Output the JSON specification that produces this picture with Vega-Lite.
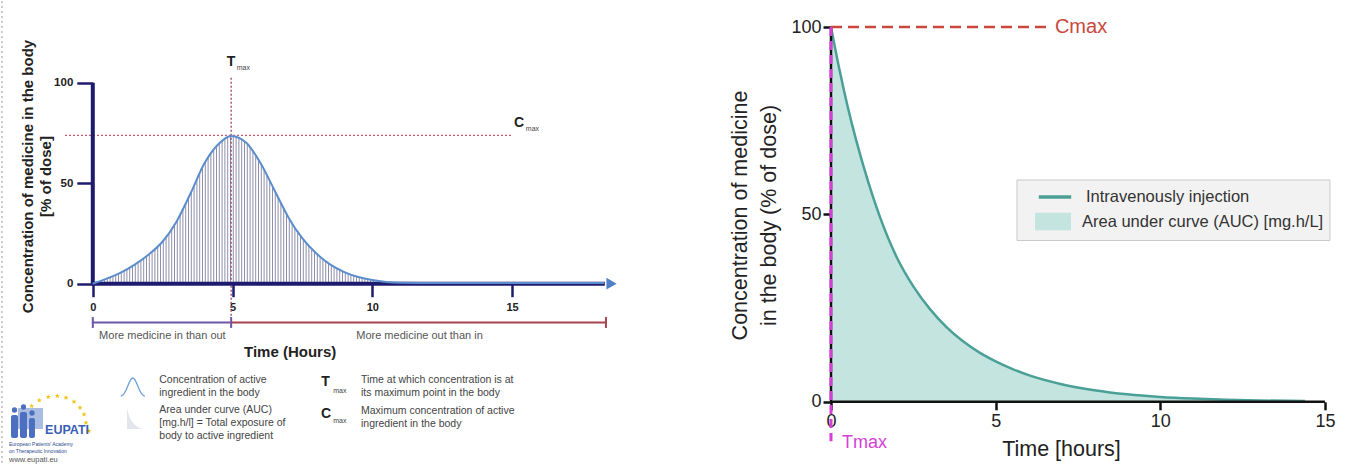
{
"$schema": "https://vega.github.io/schema/vega-lite/v6.json",
"padding": 0,
"background": "#ffffff",
"spacing": 0,
"config": {"view": {"stroke": null}, "font": "Liberation Sans"},
"datasets": {
 "left_curve": [{"x":0,"y":0},{"x":0.5,"y":2.5},{"x":1,"y":5.5},{"x":1.5,"y":9.5},{"x":2,"y":14.5},{"x":2.5,"y":21},{"x":3,"y":31},{"x":3.5,"y":45},{"x":4,"y":60},{"x":4.5,"y":69.5},{"x":4.95,"y":73.5},{"x":5.5,"y":70},{"x":6,"y":60},{"x":6.5,"y":46.5},{"x":7,"y":33},{"x":7.5,"y":22.5},{"x":8,"y":15},{"x":8.5,"y":9.5},{"x":9,"y":5.8},{"x":9.5,"y":3.3},{"x":10,"y":1.8},{"x":10.5,"y":0.9},{"x":11,"y":0.5},{"x":12,"y":0.4},{"x":18.3,"y":0.4}],
 "left_hatch": [{"x":0,"y":36.75,"x2":11,"y2":36.75}],
 "left_sep": [{"x":-3.249,"y":140.6,"x2":-3.249,"y2":-91.2}],
 "left_cmax": [{"x":-0.995,"y":73.8,"x2":15.0,"y2":73.8}],
 "left_tmax": [{"x":4.95,"y":102.5,"x2":4.95,"y2":-16.6}],
 "left_axes": [{"x":0,"y":0,"x2":0,"y2":100},{"x":0,"y":0,"x2":18.32,"y2":0}],
 "left_arrow": [{"x":18.56,"y":0}],
 "seg_in": [{"x":0,"y":-19.3,"x2":4.95,"y2":-19.3},{"x":0,"y":-16.6,"x2":0,"y2":-22.0},{"x":4.95,"y":-16.6,"x2":4.95,"y2":-22.0}],
 "seg_out": [{"x":4.95,"y":-19.3,"x2":18.36,"y2":-19.3},{"x":18.36,"y":-16.6,"x2":18.36,"y2":-22.0}],
 "left_notes": [{"x":2.49,"y":-26.0,"label":"More medicine in than out"},{"x":11.69,"y":-26.0,"label":"More medicine out than in"}],
 "left_big": [{"x":4.945,"y":110.3,"label":"T"},{"x":15.25,"y":80.1,"label":"C"},{"x":8.325,"y":-48.9,"label":"T"},{"x":8.35,"y":-64.6,"label":"C"}],
 "left_sub": [{"x":5.385,"y":107.1,"label":"max"},{"x":15.73,"y":77.0,"label":"max"},{"x":8.84,"y":-53.4,"label":"max"},{"x":8.84,"y":-68.3,"label":"max"}],
 "left_desc": [{"x":2.379,"y":-47.9,"label":"Concentration of active\ningredient in the body"},{"x":2.379,"y":-62.8,"label":"Area under curve (AUC)\n[mg.h/l] = Total exposure of\nbody to active ingredient"},{"x":9.596,"y":-47.9,"label":"Time at which concentration is at\nits maximum point in the body"},{"x":9.596,"y":-63.1,"label":"Maximum concentration of active\ningredient in the body"}],
 "left_icon_curve": [{"x":1.431,"y":-51.4}],
 "left_icon_auc": [{"x":1.51,"y":-67.1}],
 "logo_stars": [{"x":-2.186,"y":-60.85},{"x":-1.914,"y":-58.01},{"x":-1.592,"y":-56.37},{"x":-1.27,"y":-55.87},{"x":-0.959,"y":-56.72},{"x":-0.673,"y":-58.71},{"x":-0.458,"y":-61.69},{"x":-0.315,"y":-64.98},{"x":-0.243,"y":-69.15},{"x":-0.136,"y":-73.28}],
 "logo_building": [{"x":-2.676,"x2":-1.782,"y":-61.84,"y2":-72.29}],
 "logo_figs": [{"x":-2.927,"x2":-2.676,"y":-65.32,"y2":-76.77},{"x":-2.605,"x2":-2.354,"y":-63.83,"y2":-76.77},{"x":-2.283,"x2":-2.069,"y":-66.82,"y2":-76.77}],
 "logo_heads": [{"x":-2.801,"y":-62.84},{"x":-2.479,"y":-61.34},{"x":-2.175,"y":-64.33}],
 "logo_name": [{"x":-0.92,"y":-72.8,"label":"EUPATI"}],
 "logo_small": [{"x":-2.998,"y":-79.8,"label":"European Patients' Academy"},{"x":-2.998,"y":-83.3,"label":"on Therapeutic Innovation"}],
 "logo_url": [{"x":-2.998,"y":-87.7,"label":"www.eupati.eu"}],
 "right_curve": [{"x":0,"y":100},{"x":0.25,"y":88.9},{"x":0.5,"y":79},{"x":0.75,"y":70.3},{"x":1,"y":62.5},{"x":1.5,"y":49},{"x":2,"y":38.5},{"x":2.5,"y":30.8},{"x":3,"y":24.8},{"x":3.5,"y":20},{"x":4,"y":16.2},{"x":4.5,"y":13.2},{"x":5,"y":10.8},{"x":5.5,"y":8.8},{"x":6,"y":7.1},{"x":7,"y":4.7},{"x":8,"y":3.1},{"x":9,"y":2},{"x":10,"y":1.3},{"x":11,"y":0.85},{"x":12,"y":0.55},{"x":13,"y":0.35},{"x":14.4,"y":0.2}],
 "right_axes": [{"x":0,"y":0,"x2":0,"y2":100},{"x":0,"y":0,"x2":15,"y2":0}],
 "right_cmax": [{"x":0,"y":100,"x2":6.65,"y2":100}],
 "right_tmax": [{"x":0,"y":100,"x2":0,"y2":-10.5}],
 "right_cmax_label": [{"x":6.8,"y":100,"label":"Cmax"}],
 "right_tmax_label": [{"x":0.334,"y":-10.9,"label":"Tmax"}],
 "right_legend_box": [{"x":5.648,"x2":15.153,"y":59.18,"y2":43.04}]
},
"hconcat": [
 {
  "width": 680, "height": 466,
  "encoding": {
   "x": {"field":"x","type":"quantitative","scale":{"domain":[-3.32,21.009],"nice":false,"zero":false},
         "axis": {"values":[0,5,10,15],"offset":-183.3,"domain":false,"grid":false,"ticks":true,"labels":true,"tickSize":13,"tickWidth":2.5,"tickColor":"#1e1b6e",
                  "labelFontSize":11,"labelFontWeight":"bold","labelColor":"#222222","labelPadding":5,
                  "title":"Time (Hours)","titleFontSize":15,"titleFontWeight":"bold","titleColor":"#222222",
                  "titleX":289.6,"titleY":67.3,"titleAlign":"center","titleBaseline":"middle"}},
   "y": {"field":"y","type":"quantitative","scale":{"domain":[-91.19,140.65],"nice":false,"zero":false},
         "axis": {"values":[0,50,100],"offset":-92.8,"domain":false,"grid":false,"ticks":true,"labels":true,"tickSize":16,"tickWidth":2.5,"tickColor":"#1e1b6e",
                  "labelFontSize":11.5,"labelFontWeight":"bold","labelColor":"#222222","labelPadding":4,
                  "title":["Concentration of medicine in the body","[% of dose]"],"titleFontSize":15,"titleFontWeight":"bold","titleColor":"#222222",
                  "titleX":-65.8,"titleY":175,"titleAngle":-90,"titleAlign":"center","titleBaseline":"middle","titleLineHeight":18}}
  },
  "layer": [
   {"data": {"name": "left_sep"}, "mark": {"type": "rule", "stroke": "#bbbbbb", "strokeDash": [2,3], "strokeWidth": 1.5},
    "encoding": {"x2": {"field":"x2"}, "y2": {"field":"y2"}}},
   {"data": {"name": "left_hatch"}, "mark": {"type": "rule", "stroke": "#8e8eaa", "strokeDash": [1,1.8], "strokeWidth": 147.7, "strokeCap": "butt"},
    "encoding": {"x2": {"field":"x2"}, "y2": {"field":"y2"}}},
   {"data": {"name": "left_curve"}, "transform": [{"filter": "datum.x <= 11"}],
    "mark": {"type": "area", "color": "#ffffff", "interpolate": "monotone", "opacity": 1},
    "encoding": {"y2": {"datum": 74.5}}},
   {"data": {"name": "left_cmax"}, "mark": {"type": "rule", "stroke": "#c0606e", "strokeDash": [2,2], "strokeWidth": 1.4},
    "encoding": {"x2": {"field":"x2"}, "y2": {"field":"y2"}}},
   {"data": {"name": "left_tmax"}, "mark": {"type": "rule", "stroke": "#a0506a", "strokeDash": [2,2], "strokeWidth": 1.4},
    "encoding": {"x2": {"field":"x2"}, "y2": {"field":"y2"}}},
   {"data": {"name": "left_axes"}, "mark": {"type": "rule", "stroke": "#1e1b6e", "strokeWidth": 4},
    "encoding": {"x2": {"field":"x2"}, "y2": {"field":"y2"}}},
   {"data": {"name": "left_curve"}, "mark": {"type": "line", "stroke": "#5b8ccc", "strokeWidth": 2, "interpolate": "monotone"},
    "encoding": {}},
   {"data": {"name": "left_arrow"}, "mark": {"type": "point", "shape": "triangle-right", "filled": true, "fill": "#4f80c6", "size": 140, "opacity": 1},
    "encoding": {}},
   {"data": {"name": "seg_in"}, "mark": {"type": "rule", "stroke": "#6b56a8", "strokeWidth": 2},
    "encoding": {"x2": {"field":"x2"}, "y2": {"field":"y2"}}},
   {"data": {"name": "seg_out"}, "mark": {"type": "rule", "stroke": "#a8434f", "strokeWidth": 2},
    "encoding": {"x2": {"field":"x2"}, "y2": {"field":"y2"}}},
   {"data": {"name": "left_notes"}, "mark": {"type": "text", "fontSize": 11, "color": "#555555", "align": "center", "baseline": "middle"},
    "encoding": {"text": {"field":"label"}}},
   {"data": {"name": "left_big"}, "mark": {"type": "text", "fontSize": 14, "fontWeight": "bold", "color": "#222222", "align": "center", "baseline": "middle"},
    "encoding": {"text": {"field":"label"}}},
   {"data": {"name": "left_sub"}, "mark": {"type": "text", "fontSize": 7, "color": "#444444", "align": "center", "baseline": "middle"},
    "encoding": {"text": {"field":"label"}}},
   {"data": {"name": "left_desc"}, "mark": {"type": "text", "fontSize": 10.5, "color": "#444444", "align": "left", "baseline": "middle", "lineBreak": "\n", "lineHeight": 13},
    "encoding": {"text": {"field":"label"}}},
   {"data": {"name": "left_icon_curve"}, "mark": {"type": "point", "shape": "M-1,0.75C-0.5,0.75 -0.35,-0.75 0,-0.75C0.35,-0.75 0.5,0.75 1,0.75", "filled": false, "stroke": "#6e9fd8", "strokeWidth": 1.3, "size": 576, "opacity": 1},
    "encoding": {}},
   {"data": {"name": "left_icon_auc"}, "mark": {"type": "point", "shape": "M-1,1.3L-1,-1.3C-0.7,0.2 -0.1,1 1,1.3Z", "filled": true, "fill": "#e3e5ee", "size": 256, "opacity": 1},
    "encoding": {}},
   {"data": {"name": "logo_building"}, "mark": {"type": "rect", "fill": "#a9bde3"},
    "encoding": {"x2": {"field":"x2"}, "y2": {"field":"y2"}}},
   {"data": {"name": "logo_figs"}, "mark": {"type": "rect", "fill": "#4d6fbf", "cornerRadius": 2},
    "encoding": {"x2": {"field":"x2"}, "y2": {"field":"y2"}}},
   {"data": {"name": "logo_heads"}, "mark": {"type": "point", "shape": "circle", "filled": true, "fill": "#4d6fbf", "size": 28, "opacity": 1},
    "encoding": {}},
   {"data": {"name": "logo_stars"}, "mark": {"type": "point", "shape": "M0,-1L0.235,-0.324L0.951,-0.309L0.38,0.124L0.588,0.809L0,0.4L-0.588,0.809L-0.38,0.124L-0.951,-0.309L-0.235,-0.324Z", "filled": true, "fill": "#f0c419", "size": 30, "opacity": 1},
    "encoding": {}},
   {"data": {"name": "logo_name"}, "mark": {"type": "text", "fontSize": 12.5, "fontWeight": "bold", "color": "#3a5fb5", "align": "center", "baseline": "middle"},
    "encoding": {"text": {"field":"label"}}},
   {"data": {"name": "logo_small"}, "mark": {"type": "text", "fontSize": 5, "color": "#2b4a8f", "align": "left", "baseline": "middle"},
    "encoding": {"text": {"field":"label"}}},
   {"data": {"name": "logo_url"}, "mark": {"type": "text", "fontSize": 7.5, "color": "#555555", "align": "left", "baseline": "middle"},
    "encoding": {"text": {"field":"label"}}}
  ]
 },
 {
  "width": 692, "height": 466,
  "encoding": {
   "x": {"field":"x","type":"quantitative","scale":{"domain":[-4.585,16.429],"nice":false,"zero":false},
         "axis": {"values":[0,5,10,15],"offset":-65.2,"domain":false,"grid":false,"ticks":true,"labels":true,"tickSize":8,"tickWidth":2.5,"tickColor":"#111111",
                  "labelFontSize":18,"labelColor":"#222222","labelPadding":3,
                  "title":"Time [hours]","titleFontSize":21.5,"titleFontWeight":"normal","titleColor":"#222222",
                  "titleX":381,"titleY":47.2,"titleAlign":"center","titleBaseline":"middle"}},
   "y": {"field":"y","type":"quantitative","scale":{"domain":[-17.4,106.94],"nice":false,"zero":false},
         "axis": {"values":[0,50,100],"offset":-151,"domain":false,"grid":false,"ticks":true,"labels":true,"tickSize":8,"tickWidth":2.5,"tickColor":"#111111",
                  "labelFontSize":18,"labelColor":"#222222","labelPadding":2,
                  "title":["Concentration of medicine","in the body (% of dose)"],"titleFontSize":21.5,"titleFontWeight":"normal","titleColor":"#222222",
                  "titleX":-91,"titleY":214,"titleAngle":-90,"titleAlign":"center","titleBaseline":"middle","titleLineHeight":29}}
  },
  "layer": [
   {"data": {"name": "right_curve"}, "mark": {"type": "area", "interpolate": "monotone", "opacity": 1},
    "encoding": {
     "y2": {"datum": 0},
     "fill": {"datum": "Area under curve (AUC) [mg.h/L]", "type": "nominal",
              "scale": {"range": ["#c4e4e0"]},
              "legend": {"title": null, "orient": "none", "legendX": 1017, "legendY": 203.5,
                         "padding": 5, "labelFontSize": 16.5, "labelColor": "#333333", "labelLimit": 400, "symbolSize": 576,
                         "symbolOffset": 19, "labelOffset": 17, "symbolType": "M-1.5,-0.72H1.5V0.72H-1.5Z", "symbolOpacity": 1, "symbolStrokeWidth": 0}}}},
   {"data": {"name": "right_curve"}, "mark": {"type": "line", "strokeWidth": 2.5, "interpolate": "monotone"},
    "encoding": {"stroke": {"datum": "Intravenously injection", "type": "nominal",
              "scale": {"range": ["#4aa096"]},
              "legend": {"title": null, "orient": "none", "legendX": 1017, "legendY": 177,
                         "padding": 5, "labelFontSize": 16.5, "labelColor": "#333333", "labelLimit": 400, "symbolSize": 576,
                         "symbolOffset": 19, "labelOffset": 17, "symbolType": "M-1.35,0H1.35", "symbolOpacity": 1, "symbolStrokeWidth": 3.5}}}},
   {"data": {"name": "right_legend_box"}, "mark": {"type": "rect", "fill": "#f2f2f2", "stroke": "#c9c9c9", "strokeWidth": 1},
    "encoding": {"x2": {"field":"x2"}, "y2": {"field":"y2"}}},
   {"data": {"name": "right_axes"}, "mark": {"type": "rule", "stroke": "#111111", "strokeWidth": 2.5},
    "encoding": {"x2": {"field":"x2"}, "y2": {"field":"y2"}}},
   {"data": {"name": "right_cmax"}, "mark": {"type": "rule", "stroke": "#c9473d", "strokeDash": [11,6], "strokeWidth": 2.5},
    "encoding": {"x2": {"field":"x2"}, "y2": {"field":"y2"}}},
   {"data": {"name": "right_tmax"}, "mark": {"type": "rule", "stroke": "#d43fd6", "strokeDash": [9,5], "strokeWidth": 3},
    "encoding": {"x2": {"field":"x2"}, "y2": {"field":"y2"}}},
   {"data": {"name": "right_cmax_label"}, "mark": {"type": "text", "fontSize": 20, "color": "#c9473d", "align": "left", "baseline": "middle"},
    "encoding": {"text": {"field":"label"}}},
   {"data": {"name": "right_tmax_label"}, "mark": {"type": "text", "fontSize": 18, "color": "#d43fd6", "align": "left", "baseline": "middle"},
    "encoding": {"text": {"field":"label"}}}
  ]
 }
]
}
